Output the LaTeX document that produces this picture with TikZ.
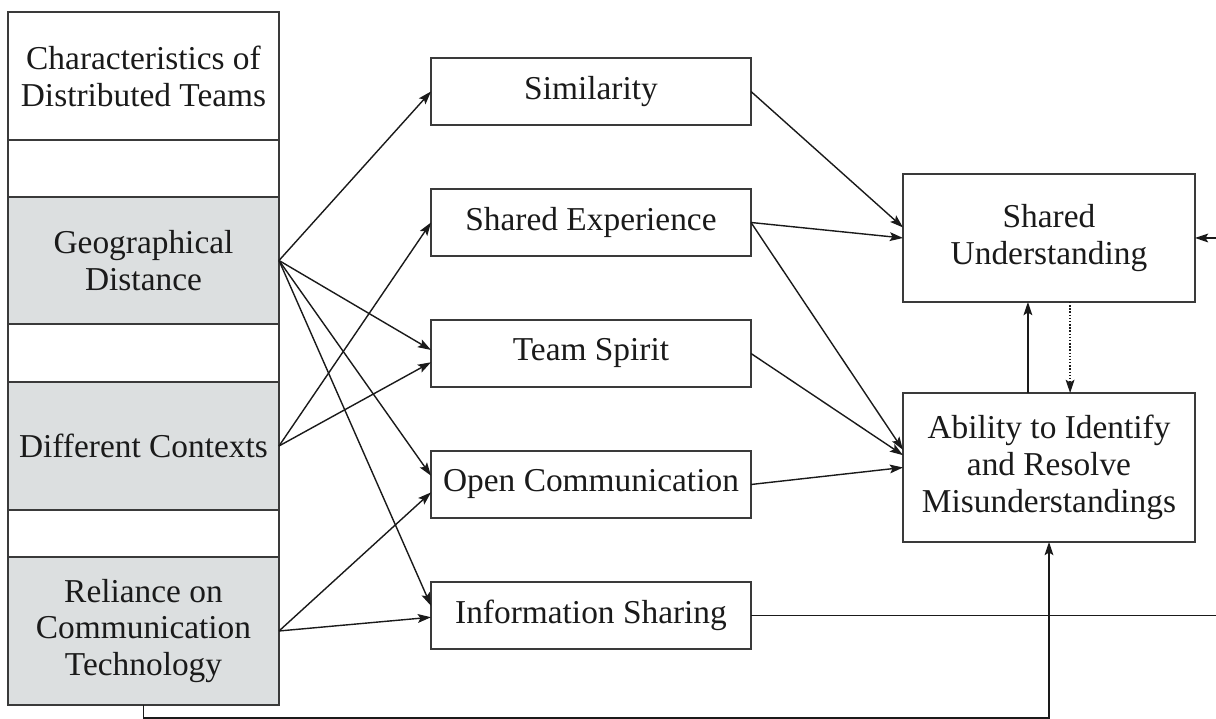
\documentclass[tikz,border=0pt]{standalone}
\usepackage{fontspec}
\setmainfont{Liberation Serif}
\usetikzlibrary{positioning,arrows.meta,calc}
\definecolor{frame}{HTML}{3A3A3A}
\definecolor{shade}{HTML}{DCDFE0}
\definecolor{ink}{HTML}{1A1A1A}
\tikzset{
  every picture/.style={line join=miter},
  box/.style={draw=frame, line width=1.1pt, text=ink, align=center, inner sep=0pt, outer sep=0pt, font=\fontsize{19}{21}\selectfont},
  colbox/.style={box, minimum width=5.42cm},
  grey/.style={fill=shade},
  midbox/.style={box, minimum width=6.4cm, minimum height=1.33cm},
  outbox/.style={box, minimum width=5.84cm},
  link/.style={draw=ink, line width=0.8pt, -{Stealth[length=7.5pt,width=5pt,inset=1.5pt]}},
  tie/.style={link, line width=1pt},
  hint/.style={link, densely dotted}
}

\begin{document}
\begin{tikzpicture}
  \useasboundingbox (0,0) rectangle (24.32,14.38);

  % left column of characteristics
  \node[colbox, minimum height=2.56cm] (head) at (2.87,12.86) {Characteristics of\\Distributed Teams};
  \node[colbox, minimum height=1.14cm, below=0pt of head] (gapA) {};
  \node[colbox, grey, minimum height=2.54cm, below=0pt of gapA] (geo) {Geographical\\Distance};
  \node[colbox, minimum height=1.16cm, below=0pt of geo] (gapB) {};
  \node[colbox, grey, minimum height=2.56cm, below=0pt of gapB] (ctx) {Different Contexts};
  \node[colbox, minimum height=0.94cm, below=0pt of ctx] (gapC) {};
  \node[colbox, grey, minimum height=2.96cm, below=0pt of gapC] (tech) {Reliance on\\Communication\\Technology};

  % middle column
  \node[midbox] (sim) at (11.82,12.55) {Similarity};
  \node[midbox, below=1.29cm of sim] (exp) {Shared Experience};
  \node[midbox, below=1.29cm of exp] (spirit) {Team Spirit};
  \node[midbox, below=1.29cm of spirit] (open) {Open Communication};
  \node[midbox, below=1.29cm of open] (info) {Information Sharing};

  % outcomes
  \node[outbox, minimum height=2.56cm] (under) at (20.98,9.62) {Shared\\Understanding};
  \node[outbox, minimum height=2.98cm, below=1.82cm of under] (resolve) {Ability to Identify\\and Resolve\\Misunderstandings};

  % characteristics -> factors
  \draw[link] (geo.east) -- (sim.west);
  \draw[link] (geo.east) -- ([yshift=2pt]spirit.west);
  \draw[link] (geo.east) -- ([yshift=5pt]open.west);
  \draw[link] (geo.east) -- ([yshift=5.5pt]info.west);
  \draw[link] (ctx.east) -- (exp.west);
  \draw[link] (ctx.east) -- ([yshift=-5pt]spirit.west);
  \draw[link] (tech.east) -- ([yshift=-4.5pt]open.west);
  \draw[link] (tech.east) -- ([yshift=-1pt]info.west);

  % factors -> outcomes
  \draw[link] (sim.east) -- ([yshift=6pt]under.west);
  \draw[link] (exp.east) -- (under.west);
  \draw[link] (exp.east) -- ([yshift=10pt]resolve.west);
  \draw[link] (spirit.east) -- ([yshift=7pt]resolve.west);
  \draw[link] (open.east) -- (resolve.west);

  % between the two outcomes
  \draw[tie] ([xshift=-12pt]resolve.north) -- ([xshift=-12pt]under.south);
  \draw[hint] ([xshift=12pt]under.south) -- ([xshift=12pt]resolve.north);

  % long lines (run past the edge)
  \draw[link] (info.east) -- ++(10,0) |- (under.east);
  \draw[link] (tech.south) -- ++(0,-0.26) -| (resolve.south);
\end{tikzpicture}
\end{document}
